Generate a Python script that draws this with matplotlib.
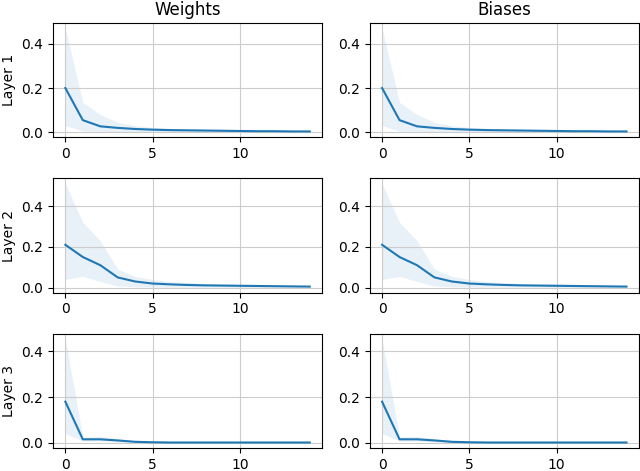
import matplotlib
matplotlib.use("Agg")
import matplotlib.pyplot as plt

epochs = list(range(15))

# mean / lower / upper per layer (same for weights and biases)
layer1_mean = [0.200, 0.055, 0.027, 0.020, 0.015, 0.012, 0.010, 0.009, 0.008, 0.007, 0.006, 0.005, 0.005, 0.004, 0.004]
layer1_low = [0.030, 0.006, 0.004, 0.003, 0.002, 0.002, 0.002, 0.001, 0.001, 0.001, 0.001, 0.001, 0.001, 0.001, 0.001]
layer1_high = [0.470, 0.135, 0.080, 0.045, 0.030, 0.022, 0.018, 0.015, 0.013, 0.012, 0.011, 0.010, 0.009, 0.008, 0.007]

layer2_mean = [0.210, 0.150, 0.110, 0.050, 0.030, 0.020, 0.016, 0.013, 0.011, 0.010, 0.009, 0.008, 0.007, 0.006, 0.005]
layer2_low = [0.040, 0.055, 0.030, 0.008, 0.004, 0.003, 0.002, 0.002, 0.002, 0.002, 0.001, 0.001, 0.001, 0.001, 0.001]
layer2_high = [0.510, 0.320, 0.230, 0.090, 0.055, 0.040, 0.030, 0.025, 0.020, 0.018, 0.016, 0.014, 0.012, 0.010, 0.009]

layer3_mean = [0.180, 0.015, 0.015, 0.010, 0.004, 0.002, 0.001, 0.001, 0.001, 0.001, 0.001, 0.001, 0.001, 0.001, 0.001]
layer3_low = [0.040, 0.008, 0.008, 0.003, 0.001, 0.000, 0.000, 0.000, 0.000, 0.000, 0.000, 0.000, 0.000, 0.000, 0.000]
layer3_high = [0.455, 0.025, 0.028, 0.018, 0.008, 0.004, 0.003, 0.002, 0.002, 0.002, 0.002, 0.002, 0.002, 0.002, 0.002]

layers = [
    ("Layer 1", layer1_mean, layer1_low, layer1_high),
    ("Layer 2", layer2_mean, layer2_low, layer2_high),
    ("Layer 3", layer3_mean, layer3_low, layer3_high),
]
columns = ["Weights", "Biases"]

fig, axes = plt.subplots(3, 2, figsize=(6.4, 4.71))
for i, (name, mean, low, high) in enumerate(layers):
    for j, col in enumerate(columns):
        ax = axes[i, j]
        ax.fill_between(epochs, low, high, color="tab:blue", alpha=0.1, linewidth=0)
        ax.plot(epochs, mean, color="tab:blue")
        ax.grid(True, color="#cccccc")
        if i == 0:
            ax.set_title(col)
        if j == 0:
            ax.set_ylabel(name)

fig.subplots_adjust(left=0.083, right=0.998, top=0.951, bottom=0.049,
                    wspace=0.178, hspace=0.36)
fig.savefig("out.png", dpi=100)
